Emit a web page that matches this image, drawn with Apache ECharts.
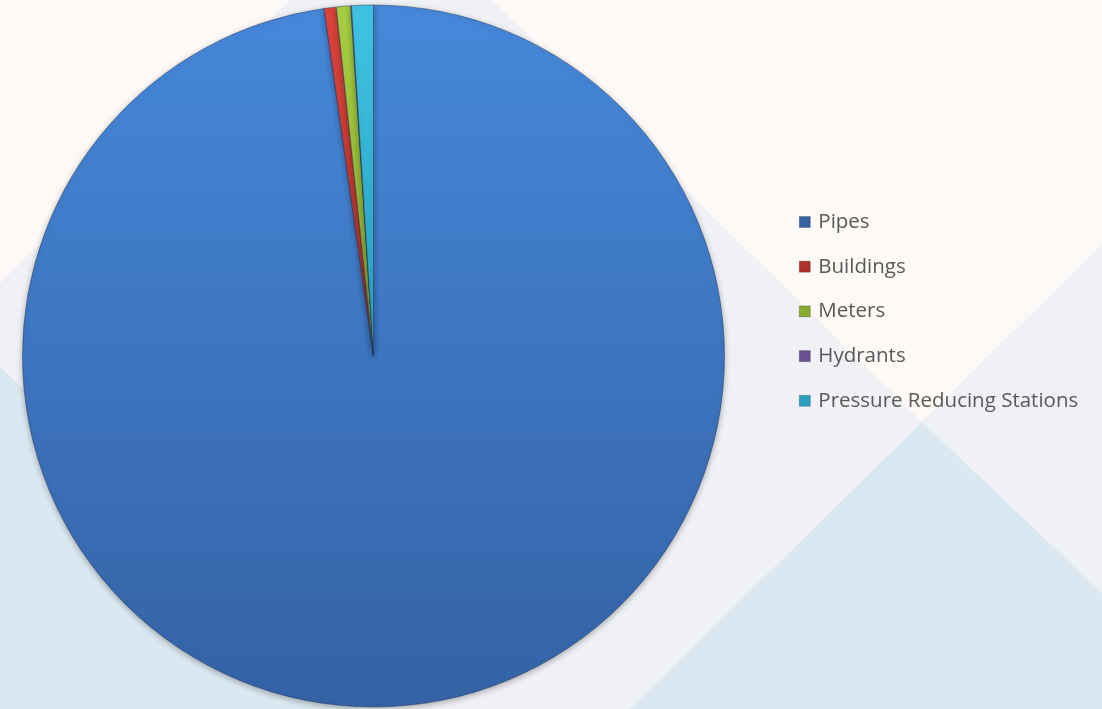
<!DOCTYPE html>
<html>
<head>
<meta charset="utf-8">
<script src="https://cdn.jsdelivr.net/npm/echarts@6/dist/echarts.min.js"></script>
<style>
html,body{margin:0;padding:0;background:#fcf9f6;}
#chart{width:1102px;height:709px;}
</style>
</head>
<body>
<div id="chart"></div>
<script>
// Data (share of total, %)
const categories = ['Pipes', 'Buildings', 'Meters', 'Hydrants', 'Pressure Reducing Stations'];
const values = [97.75, 0.56, 0.66, 0.03, 1.00];
const colorTops = ['#4688da', '#de443c', '#a8cf44', '#9a7cc4', '#40c4e4'];
const colorBottoms = ['#3462a5', '#b0302a', '#88aa2e', '#6a4f92', '#2a9fbf'];

const chart = echarts.init(document.getElementById('chart'));

const seriesData = categories.map((name, i) => ({
  name: name,
  value: values[i],
  itemStyle: {
    color: new echarts.graphic.LinearGradient(0, 0, 0, 1, [
      { offset: 0, color: colorTops[i] },
      { offset: 1, color: colorBottoms[i] }
    ])
  }
}));

chart.setOption({
  backgroundColor: '#fcf9f6',
  animation: false,
  graphic: [
    { type: 'polygon', z: 0, silent: true,
      shape: { points: [[290,0],[492,0],[922,422],[1102,244],[1102,709],[0,709],[0,283]] },
      style: { fill: '#eff1f5' } },
    { type: 'polygon', z: 0, silent: true,
      shape: { points: [[0,367],[0,709],[360,709]] },
      style: { fill: '#dce8f1' } },
    { type: 'polygon', z: 0, silent: true,
      shape: { points: [[630,709],[922,422],[1102,593],[1102,709]] },
      style: { fill: '#dce8f1' } }
  ],
  legend: {
    orient: 'vertical',
    left: 799,
    top: 211,
    padding: 0,
    itemWidth: 11,
    itemHeight: 11,
    itemGap: 22.7,
    icon: 'rect',
    data: categories.map((c, i) => ({ name: c, itemStyle: { color: colorBottoms[i], borderColor: 'rgba(0,0,0,0.35)', borderWidth: 0.6 } })),
    textStyle: {
      fontFamily: 'Open Sans',
      fontSize: 20.5,
      color: '#595959',
      lineHeight: 22,
      padding: [0, 0, 0, 3]
    },
    selectedMode: false
  },
  series: [{
    type: 'pie',
    z: 2,
    center: [373.5, 356],
    radius: [0, 351],
    startAngle: 90,
    clockwise: true,
    avoidLabelOverlap: false,
    label: { show: false },
    labelLine: { show: false },
    emphasis: { disabled: true },
    itemStyle: {
      borderColor: 'rgba(25,45,85,0.55)',
      borderWidth: 0.8,
      shadowBlur: 6,
      shadowOffsetY: 2,
      shadowColor: 'rgba(0,0,0,0.3)'
    },
    data: seriesData
  }]
});
</script>
</body>
</html>
